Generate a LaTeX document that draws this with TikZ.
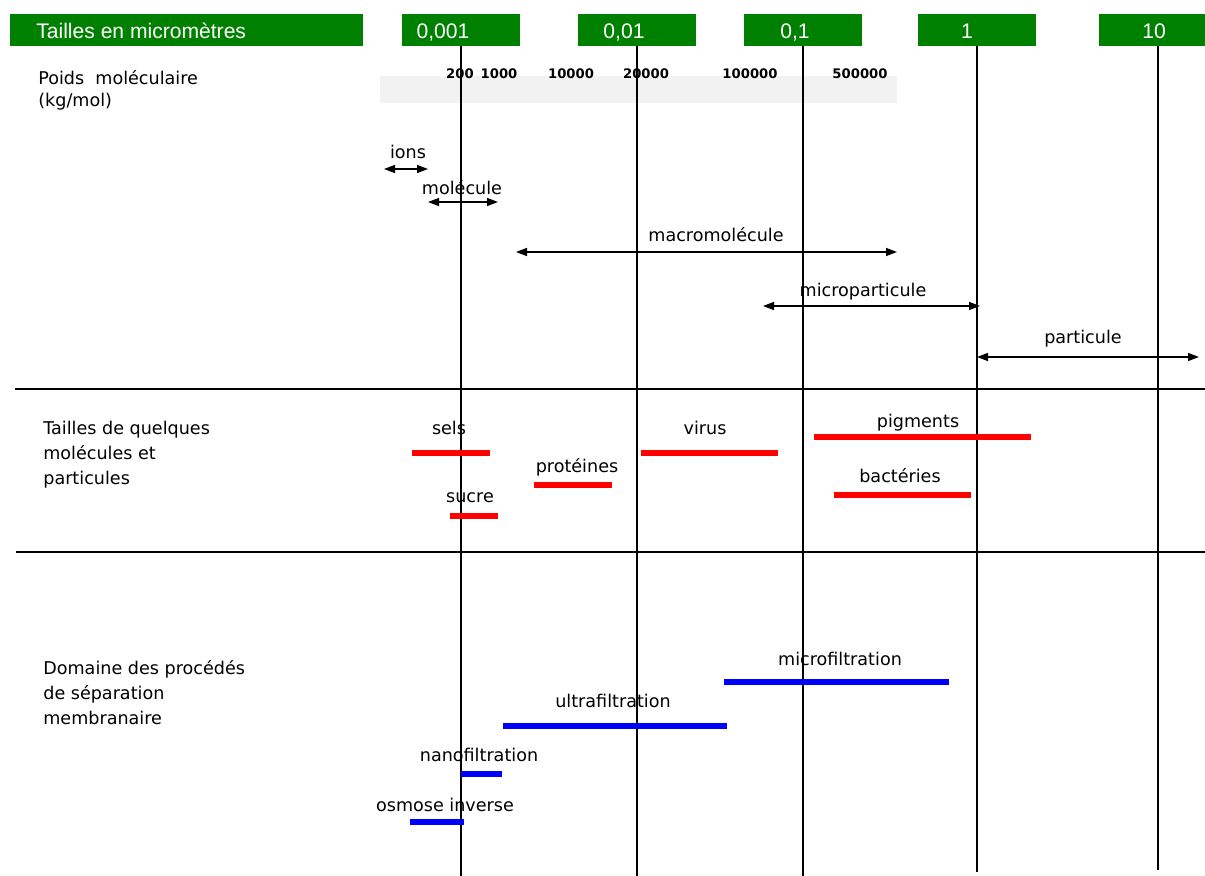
\documentclass[tikz,border=0pt]{standalone}
\usepackage{fontspec}
\setmainfont{DejaVu Sans}
\newfontfamily\headfont{Liberation Sans}
\usetikzlibrary{arrows.meta}
\definecolor{hgreen}{RGB}{0,128,0}

\begin{document}
\begin{tikzpicture}[x=0.02cm, y=-0.02cm,
    headbox/.style={fill=hgreen, inner sep=0pt, minimum width=2.36cm, minimum height=0.64cm},
    headtext/.style={text=white, font=\headfont\fontsize{12}{14}\selectfont, inner sep=0pt, anchor=base},
    lbl/.style={font=\fontsize{10}{12}\selectfont, inner sep=0pt, anchor=base},
    side/.style={font=\fontsize{10}{14.2}\selectfont, inner sep=0pt, align=left, anchor=north west},
    wt/.style={font=\bfseries\fontsize{7.5}{8}\selectfont, inner sep=0pt},
    vline/.style={line width=1pt},
    sizearrow/.style={line width=0.8pt, {Triangle[length=0.22cm,width=0.16cm]}-{Triangle[length=0.22cm,width=0.16cm]}},
    rbar/.style={red, line width=3pt},
    bbar/.style={blue, line width=3pt}]
    \useasboundingbox (0,0) rectangle (1205,876);

    % header
    \node [headbox, minimum width=7.06cm] (btitle) at (186.5,30) {};
    \node [headbox] (b0001) at (461,30) {};
    \node [headbox] (b001) at (637,30) {};
    \node [headbox] (b01) at (803,30) {};
    \node [headbox] (b1) at (977,30) {};
    \node [headbox] (b10) at (1158,30) {};
    \node [headtext, anchor=base west] (ttitle) at (36,38) {Tailles en micromètres};
    \node [headtext] (t0001) at (443,38) {0,001};
    \node [headtext] (t001) at (624,38) {0,01};
    \node [headtext] (t01) at (795,38) {0,1};
    \node [headtext] (t1) at (967,38) {1};
    \node [headtext] (t10) at (1154,38) {10};

    % molecular weights
    \fill [black!5] (380,76) rectangle (897,103);
    \node [side, font=\fontsize{10}{12.3}\selectfont] (poids) at (38,70) {Poids\ \ moléculaire\\(kg/mol)};
    \node [wt] (w200) at (460,74) {200};
    \node [wt] (w1000) at (499,74) {1000};
    \node [wt] (w10000) at (571,74) {10000};
    \node [wt] (w20000) at (646,74) {20000};
    \node [wt] (w100000) at (750,74) {100000};
    \node [wt] (w500000) at (860,74) {500000};

    % scale lines and separators
    \coordinate (e0001) at (461,876);
    \coordinate (e001) at (637,876);
    \coordinate (e01) at (803,876);
    \coordinate (e1) at (977,872);
    \coordinate (e10) at (1158,870);
    \draw [vline] (b0001.south) -- (e0001);
    \draw [vline] (b001.south) -- (e001);
    \draw [vline] (b01.south) -- (e01);
    \draw [vline] (b1.south) -- (e1);
    \draw [vline] (b10.south) -- (e10);
    \coordinate (s1a) at (15,389);
    \coordinate (s1b) at (1205,389);
    \coordinate (s2a) at (16,552);
    \coordinate (s2b) at (1205,552);
    \draw [vline] (s1a) -- (s1b);
    \draw [vline] (s2a) -- (s2b);

    % size classes
    \coordinate (ionsL) at (384,169);
    \coordinate (ionsR) at (428,169);
    \coordinate (molL) at (428,202);
    \coordinate (molR) at (498,202);
    \coordinate (macroL) at (516,252);
    \coordinate (macroR) at (897,252);
    \coordinate (microL) at (763,306);
    \coordinate (microR) at (980,306);
    \coordinate (partL) at (977,357);
    \coordinate (partR) at (1199,357);
    \draw [sizearrow] (ionsL) -- (ionsR);
    \draw [sizearrow] (molL) -- (molR);
    \draw [sizearrow] (macroL) -- (macroR);
    \draw [sizearrow] (microL) -- (microR);
    \draw [sizearrow] (partL) -- (partR);
    \node [lbl] (lions) at (408,158) {ions};
    \node [lbl] (lmol) at (462,194) {molécule};
    \node [lbl] (lmacro) at (716,241) {macromolécule};
    \node [lbl] (lmicro) at (863,296) {microparticule};
    \node [lbl] (lpart) at (1083,343) {particule};

    % some molecules and particles
    \node [side] (tailles) at (43,421) {Tailles de quelques\\molécules et\\particules};
    \coordinate (selsL) at (412,453);
    \coordinate (selsR) at (490,453);
    \coordinate (virusL) at (641,453);
    \coordinate (virusR) at (778,453);
    \coordinate (pigL) at (814,437);
    \coordinate (pigR) at (1031,437);
    \coordinate (protL) at (534,485);
    \coordinate (protR) at (612,485);
    \coordinate (bactL) at (834,495);
    \coordinate (bactR) at (971,495);
    \coordinate (sucL) at (450,516);
    \coordinate (sucR) at (498,516);
    \draw [rbar] (selsL) -- (selsR);
    \draw [rbar] (virusL) -- (virusR);
    \draw [rbar] (pigL) -- (pigR);
    \draw [rbar] (protL) -- (protR);
    \draw [rbar] (bactL) -- (bactR);
    \draw [rbar, line width=3.6pt] (sucL) -- (sucR);
    \node [lbl] (lsels) at (449,434) {sels};
    \node [lbl] (lvirus) at (705,434) {virus};
    \node [lbl] (lpig) at (918,427) {pigments};
    \node [lbl] (lprot) at (577,472) {protéines};
    \node [lbl] (lbact) at (900,482) {bactéries};
    \node [lbl] (lsuc) at (470,502) {sucre};

    % membrane processes
    \node [side] (domaine) at (43,660) {Domaine des procédés\\de séparation\\membranaire};
    \coordinate (mfL) at (724,682);
    \coordinate (mfR) at (949,682);
    \coordinate (ufL) at (503,726);
    \coordinate (ufR) at (727,726);
    \coordinate (nfL) at (461,774);
    \coordinate (nfR) at (502,774);
    \coordinate (oiL) at (410,822);
    \coordinate (oiR) at (464,822);
    \draw [bbar] (mfL) -- (mfR);
    \draw [bbar] (ufL) -- (ufR);
    \draw [bbar] (nfL) -- (nfR);
    \draw [bbar] (oiL) -- (oiR);
    \node [lbl] (lmf) at (840,665) {microfiltration};
    \node [lbl] (luf) at (613,707) {ultrafiltration};
    \node [lbl] (lnf) at (479,761) {nanofiltration};
    \node [lbl] (loi) at (445,811) {osmose inverse};
\end{tikzpicture}
\end{document}
